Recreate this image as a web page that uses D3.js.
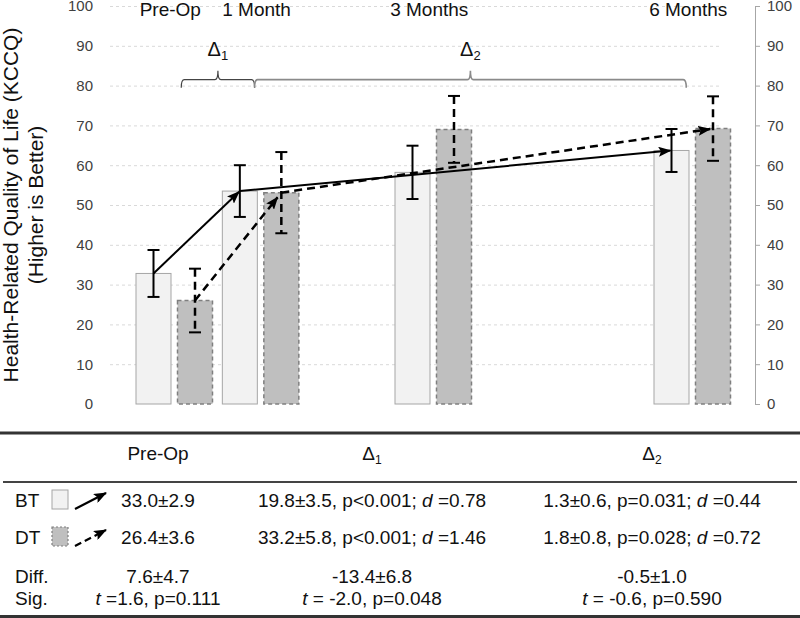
<!DOCTYPE html>
<html lang="en">
<head>
    <meta charset="UTF-8">
    <title>KCCQ</title>
    <script src="https://d3js.org/d3.v7.min.js"></script>
    <style>
        body {
            margin: 0;
            background: white;
        }
        svg text {
            font-family: "Liberation Sans", Arial, sans-serif;
            white-space: pre;
        }
    </style>
</head>
<body>
<svg id="viz" width="800" height="618"></svg>
<script>
    // chart data
    var timepoints = ["Pre-Op", "1 Month", "3 Months", "6 Months"];
    var months = [0, 1, 3, 6];
    var btMean = [32.8, 53.5, 58.2, 63.7];
    var btErr = [5.9, 6.5, 6.7, 5.4];
    var dtMean = [26.0, 53.1, 69.0, 69.2];
    var dtErr = [8.0, 10.2, 8.4, 8.1];
    var yTicks = [0, 10, 20, 30, 40, 50, 60, 70, 80, 90, 100];
    // arrows go from timepoint index to timepoint index
    var segments = [[0, 1], [1, 3]];
    // brackets over the bars
    var brackets = [{sub: "1", from: 0, to: 1}, {sub: "2", from: 1, to: 3}];

    // table data (*x* = italic)
    var tableHeads = [["Pre-Op", ""], ["Δ", "1"], ["Δ", "2"]];
    var tableRowNames = ["BT", "DT", "Diff.", "Sig."];
    var btRow = ["33.0±2.9", "19.8±3.5, p<0.001; *d* =0.78", "1.3±0.6, p=0.031; *d* =0.44"];
    var dtRow = ["26.4±3.6", "33.2±5.8, p<0.001; *d* =1.46", "1.8±0.8, p=0.028; *d* =0.72"];
    var diffRow = ["7.6±4.7", "-13.4±6.8", "-0.5±1.0"];
    var sigRow = ["*t* =1.6, p=0.111", "*t* = -2.0, p=0.048", "*t* = -0.6, p=0.590"];

    var svg = d3.select("#viz");

    var y = d3.scaleLinear().domain([0, 100]).range([404, 6]);
    var x = d3.scaleLinear().domain([0, 6]).range([174.25, 692.25]);
    var barW = 35, off = 20.75;
    var ink = "#111";

    var series = [
        {key: "BT", mean: btMean, err: btErr, dx: -off, fill: "#f2f2f2", stroke: "#a6a6a6", dash: null, lineDash: null, cut: [1, 1]},
        {key: "DT", mean: dtMean, err: dtErr, dx: off, fill: "#bfbfbf", stroke: "#7f7f7f", dash: "4,3", lineDash: "8,5", cut: [6, 3]}
    ];

    var defs = svg.append("defs");
    defs.append("marker")
        .attr("id", "arrow")
        .attr("markerUnits", "userSpaceOnUse")
        .attr("markerWidth", 13).attr("markerHeight", 10)
        .attr("refX", 12).attr("refY", 5)
        .attr("orient", "auto")
        .append("path")
        .attr("d", "M0,0 L13,5 L0,10 L2.5,5 Z")
        .attr("fill", "#000");

    // grid
    svg.append("g")
        .attr("transform", "translate(110,0)")
        .call(d3.axisLeft(y).tickValues(yTicks.slice(1)).tickSize(-610).tickFormat(""))
        .call(function (g) {
            g.select(".domain").remove();
            g.selectAll("line").attr("stroke", "#d9d9d9").attr("stroke-dasharray", "3,3");
        });

    // left axis labels
    svg.append("g")
        .attr("transform", "translate(110,0)")
        .call(d3.axisLeft(y).tickValues(yTicks).tickSize(0).tickPadding(17))
        .call(function (g) {
            g.select(".domain").remove();
            g.selectAll("text").attr("fill", "#404040").style("font-size", "15px")
                .style("font-family", "'Liberation Sans', Arial, sans-serif");
        });

    // right axis
    svg.append("g")
        .attr("transform", "translate(755,0)")
        .call(d3.axisRight(y).tickValues(yTicks).tickSize(5).tickPadding(7))
        .call(function (g) {
            g.select(".domain").attr("stroke", "#a6a6a6");
            g.selectAll("line").attr("stroke", "#a6a6a6");
            g.selectAll("text").attr("fill", "#404040").style("font-size", "15px")
                .style("font-family", "'Liberation Sans', Arial, sans-serif");
        });

    // y title
    svg.append("text")
        .attr("transform", "translate(18,205) rotate(-90)")
        .attr("text-anchor", "middle")
        .style("font-size", "21px").attr("fill", ink)
        .text("Health-Related Quality of Life (KCCQ)");
    svg.append("text")
        .attr("transform", "translate(43,205) rotate(-90)")
        .attr("text-anchor", "middle")
        .style("font-size", "21px").attr("fill", ink)
        .text("(Higher is Better)");

    // timepoint labels on top
    svg.selectAll("text.tp")
        .data(timepoints)
        .enter().append("text")
        .attr("class", "tp")
        .attr("x", function (d, i) { return x(months[i]) - 4; })
        .attr("y", 16)
        .attr("text-anchor", "middle")
        .style("font-size", "19px").attr("fill", ink)
        .text(function (d) { return d; });

    // brackets
    var bY = y(81.5);
    brackets.forEach(function (b, i) {
        var x0 = x(months[b.from]) + (i === 0 ? 7 : -6);
        var x1 = x(months[b.to]) - 6;
        var xm = (x0 + x1) / 2;
        var col = i === 0 ? "#444" : "#8a8a8a";
        svg.append("path")
            .attr("d", "M" + x0 + "," + (bY + 8) + " Q" + x0 + "," + bY + " " + (x0 + 3) + "," + bY +
                " L" + (xm - 3) + "," + bY + " Q" + xm + "," + bY + " " + xm + "," + (bY - 9) +
                " Q" + xm + "," + bY + " " + (xm + 3) + "," + bY +
                " L" + (x1 - 3) + "," + bY + " Q" + x1 + "," + bY + " " + x1 + "," + (bY + 8))
            .attr("fill", "none")
            .attr("stroke", col)
            .attr("stroke-width", i === 0 ? 1.2 : 1.6);
        var t = svg.append("text")
            .attr("x", xm)
            .attr("y", 56)
            .attr("text-anchor", "middle")
            .style("font-size", "20px").attr("fill", ink);
        t.append("tspan").text("Δ");
        t.append("tspan").attr("dy", 4).style("font-size", "13px").text(b.sub);
    });

    // bars
    series.forEach(function (s) {
        svg.append("g").selectAll("rect")
            .data(s.mean)
            .enter().append("rect")
            .attr("x", function (d, i) { return x(months[i]) + s.dx - barW / 2; })
            .attr("y", function (d) { return y(d); })
            .attr("width", barW)
            .attr("height", function (d) { return y(0) - y(d); })
            .attr("fill", s.fill)
            .attr("stroke", s.stroke)
            .attr("stroke-width", s.dash ? 1.5 : 1)
            .attr("stroke-dasharray", s.dash);
    });

    // error bars
    series.forEach(function (s) {
        var g = svg.append("g")
            .attr("stroke", "#000")
            .attr("stroke-width", 2)
            .attr("fill", "none");
        s.mean.forEach(function (m, i) {
            var cx = x(months[i]) + s.dx;
            var hi = y(m + s.err[i]), lo = y(m - s.err[i]);
            g.append("line").attr("x1", cx).attr("x2", cx).attr("y1", hi).attr("y2", lo)
                .attr("stroke-width", s.lineDash ? 2.5 : 2)
                .attr("stroke-dasharray", s.lineDash ? "8,5" : null);
            g.append("line").attr("x1", cx - 6).attr("x2", cx + 6).attr("y1", hi).attr("y2", hi);
            g.append("line").attr("x1", cx - 6).attr("x2", cx + 6).attr("y1", lo).attr("y2", lo);
        });
    });

    // arrows between means
    series.forEach(function (s) {
        segments.forEach(function (seg, k) {
            var x0 = x(months[seg[0]]) + s.dx, y0 = y(s.mean[seg[0]]);
            var x1 = x(months[seg[1]]) + s.dx, y1 = y(s.mean[seg[1]]);
            var len = Math.hypot(x1 - x0, y1 - y0);
            var c = s.cut[k];
            x1 -= (x1 - x0) / len * c;
            y1 -= (y1 - y0) / len * c;
            svg.append("line")
                .attr("x1", x0).attr("y1", y0).attr("x2", x1).attr("y2", y1)
                .attr("stroke", "#000")
                .attr("stroke-width", s.lineDash ? 2.5 : 2)
                .attr("stroke-dasharray", s.lineDash)
                .attr("marker-end", "url(#arrow)");
        });
    });

    // ---- table ----
    var colX = [158, 372, 652];
    svg.append("line").attr("x1", 0).attr("x2", 800).attr("y1", 433).attr("y2", 433)
        .attr("stroke", "#333").attr("stroke-width", 3);
    svg.append("line").attr("x1", 3).attr("x2", 797).attr("y1", 482).attr("y2", 482)
        .attr("stroke", "#444").attr("stroke-width", 2);
    svg.append("line").attr("x1", 0).attr("x2", 800).attr("y1", 616.5).attr("y2", 616.5)
        .attr("stroke", "#333").attr("stroke-width", 3);

    tableHeads.forEach(function (h, i) {
        var t = svg.append("text")
            .attr("x", colX[i]).attr("y", 460)
            .attr("text-anchor", "middle")
            .style("font-size", "19px").attr("fill", ink);
        t.append("tspan").text(h[0]);
        if (h[1]) t.append("tspan").attr("dy", 4).style("font-size", "12px").text(h[1]);
    });

    function cellText(str, cx, cy) {
        var t = svg.append("text")
            .attr("x", cx).attr("y", cy)
            .attr("text-anchor", "middle")
            .style("font-size", "19px").attr("fill", ink);
        str.split("*").forEach(function (part, j) {
            if (part === "") return;
            t.append("tspan").style("font-style", j % 2 ? "italic" : null).text(part);
        });
    }

    var rowY = [507, 544, 583, 605];
    [btRow, dtRow, diffRow, sigRow].forEach(function (row, r) {
        svg.append("text")
            .attr("x", 15).attr("y", rowY[r])
            .style("font-size", "19px").attr("fill", ink)
            .text(tableRowNames[r]);
        row.forEach(function (cell, c) {
            cellText(cell, colX[c], rowY[r]);
        });
    });

    // legend swatches + arrows in table
    series.forEach(function (s, i) {
        var top = rowY[i] - 17;
        svg.append("rect")
            .attr("x", 52).attr("y", top)
            .attr("width", 16).attr("height", 19)
            .attr("fill", s.fill)
            .attr("stroke", s.stroke)
            .attr("stroke-width", s.dash ? 1.2 : 1)
            .attr("stroke-dasharray", s.dash ? "2,2" : null);
        svg.append("line")
            .attr("x1", 75).attr("y1", top + 19)
            .attr("x2", 106).attr("y2", top + 3)
            .attr("stroke", "#000")
            .attr("stroke-width", 2.2)
            .attr("stroke-dasharray", s.lineDash ? "7,4" : null)
            .attr("marker-end", "url(#arrow)");
    });
</script>
</body>
</html>
